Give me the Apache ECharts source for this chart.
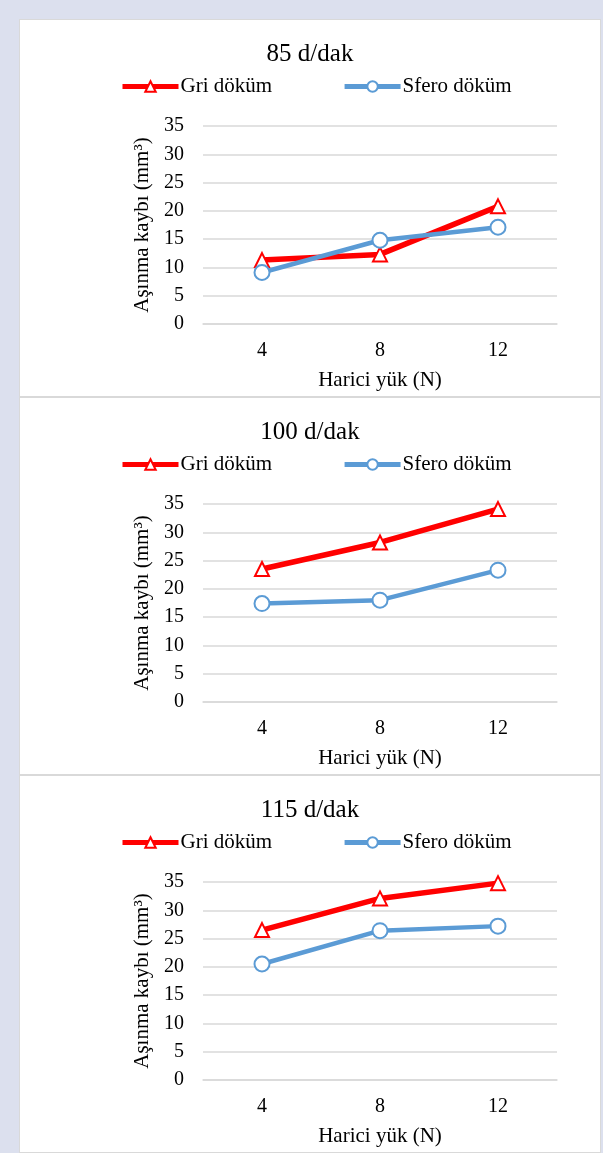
<!DOCTYPE html>
<html>
<head>
<meta charset="utf-8">
<script src="https://cdn.jsdelivr.net/npm/echarts@6/dist/echarts.min.js"></script>
<style>
  html, body { margin: 0; padding: 0; }
  body { width: 603px; height: 1153px; background: #dce0ee; position: relative; overflow: hidden; }
  .panel { position: absolute; left: 19px; width: 580px; height: 376px; background: #fff; border: 1px solid #d9d9d9; }
  .panel .chart { width: 580px; height: 376px; }
</style>
</head>
<body>
<div class="panel" style="top:19px"><div class="chart" id="c0"></div></div>
<div class="panel" style="top:397px"><div class="chart" id="c1"></div></div>
<div class="panel" style="top:775px"><div class="chart" id="c2"></div></div>
<script>
// Applied load on the x axis (N)
const loads = ['4', '8', '12'];
// Panel titles: rotation speed
const speeds = ['85 d/dak', '100 d/dak', '115 d/dak'];
const seriesNames = ['Gri döküm', 'Sfero döküm'];
// Wear loss (mm³) per speed
const gri85 = [11.3, 12.3, 20.8];
const sfero85 = [9.1, 14.8, 17.1];
const gri100 = [23.5, 28.2, 34.1];
const sfero100 = [17.4, 18.0, 23.3];
const gri115 = [26.5, 32.1, 34.8];
const sfero115 = [20.5, 26.4, 27.2];
const yMin = 0, yMax = 35, yStep = 5;
const xAxisName = 'Harici yük (N)';
const yAxisName = 'Aşınma kaybı (mm³)';

const FONT = '"Liberation Serif", "Times New Roman", serif';
const RED = '#ff0000';
const BLUE = '#5b9bd5';

function buildOption(title, gri, sfero) {
  return {
    animation: false,
    textStyle: { fontFamily: FONT, color: '#000' },
    title: {
      text: title,
      left: 'center',
      top: 19,
      padding: 0,
      textStyle: { fontFamily: FONT, fontSize: 25, fontWeight: 'normal', color: '#000', lineHeight: 30 }
    },
    legend: {
      data: seriesNames,
      left: 100,
      top: 56,
      padding: 0,
      itemWidth: 56,
      itemHeight: 13,
      itemGap: 70,
      lineStyle: { width: 5 },
      textStyle: { fontFamily: FONT, fontSize: 21, color: '#000', padding: [0, 0, 0, -3] }
    },
    grid: { left: 183, top: 106, width: 354, height: 200 },
    xAxis: {
      type: 'category',
      data: loads,
      boundaryGap: true,
      name: xAxisName,
      nameLocation: 'middle',
      nameGap: 46,
      nameTextStyle: { fontFamily: FONT, fontSize: 21, color: '#000' },
      axisLine: { show: true, lineStyle: { color: '#d9d9d9', width: 1.5 } },
      axisTick: { show: false },
      axisLabel: { fontFamily: FONT, fontSize: 20, color: '#000', margin: 17 }
    },
    yAxis: {
      type: 'value',
      min: yMin,
      max: yMax,
      interval: yStep,
      name: yAxisName,
      nameLocation: 'middle',
      nameGap: 48,
      nameTextStyle: { fontFamily: FONT, fontSize: 21, color: '#000' },
      axisLine: { show: false },
      axisTick: { show: false },
      axisLabel: { fontFamily: FONT, fontSize: 20, color: '#000', margin: 19 },
      splitLine: { show: true, lineStyle: { color: '#d9d9d9', width: 1.5 } }
    },
    series: [
      {
        name: seriesNames[0],
        type: 'line',
        data: gri,
        symbol: 'triangle',
        symbolSize: 14,
        lineStyle: { color: RED, width: 5.5 },
        itemStyle: { color: '#fff', borderColor: RED, borderWidth: 2 },
        z: 2
      },
      {
        name: seriesNames[1],
        type: 'line',
        data: sfero,
        symbol: 'circle',
        symbolSize: 15,
        lineStyle: { color: BLUE, width: 4.5 },
        itemStyle: { color: '#fff', borderColor: BLUE, borderWidth: 2 },
        z: 3
      }
    ]
  };
}

const panels = [
  [speeds[0], gri85, sfero85],
  [speeds[1], gri100, sfero100],
  [speeds[2], gri115, sfero115]
];
panels.forEach(function (p, i) {
  const chart = echarts.init(document.getElementById('c' + i), null, { renderer: 'canvas' });
  chart.setOption(buildOption(p[0], p[1], p[2]));
});
</script>
</body>
</html>
